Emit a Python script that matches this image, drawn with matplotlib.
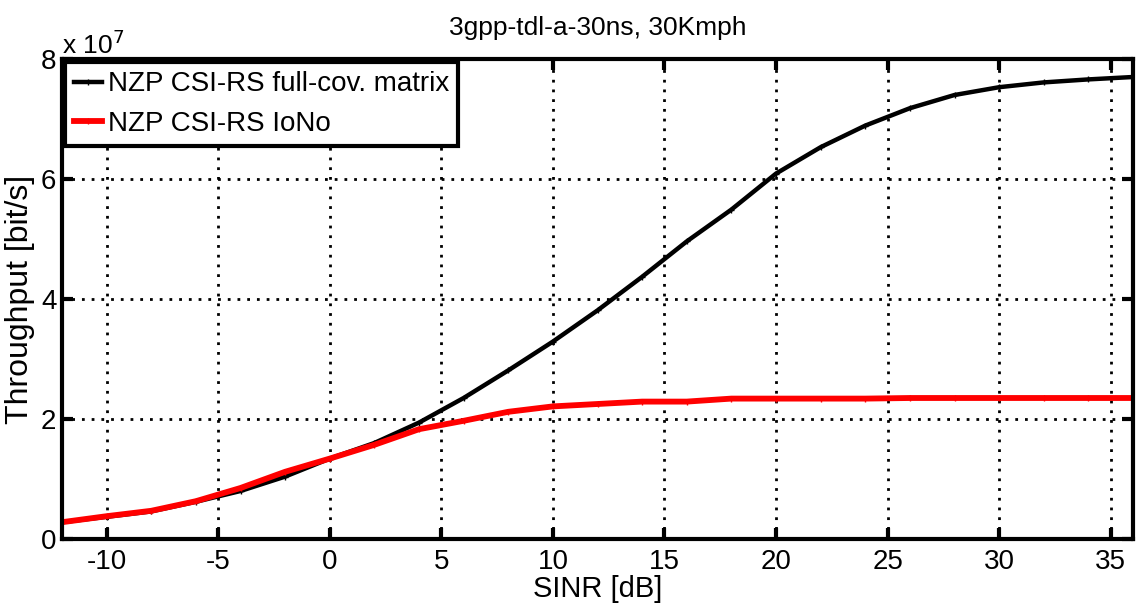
import matplotlib.pyplot as plt
import numpy as np

plt.rcParams['font.family'] = ['Liberation Sans', 'DejaVu Sans']
plt.rcParams['axes.unicode_minus'] = False

# SINR points (dB)
sinr = [-12, -10, -8, -6, -4, -2, 0, 2, 4, 6, 8, 10, 12, 14, 16, 18, 20,
        22, 24, 26, 28, 30, 32, 34, 36]

# throughput in units of 1e7 bit/s
full_cov = [0.28, 0.37, 0.46, 0.62, 0.80, 1.04, 1.34, 1.60, 1.94, 2.35,
            2.81, 3.29, 3.81, 4.37, 4.96, 5.49, 6.09, 6.53, 6.89, 7.18,
            7.40, 7.53, 7.61, 7.66, 7.70]
iono = [0.28, 0.38, 0.47, 0.63, 0.85, 1.12, 1.34, 1.57, 1.83, 1.97,
        2.12, 2.21, 2.25, 2.29, 2.29, 2.34, 2.34, 2.34, 2.34, 2.35,
        2.35, 2.35, 2.35, 2.35, 2.35]

fig = plt.figure(figsize=(11.37, 6.10), dpi=100)
ax = fig.add_axes([62/1137, 1-539/610, (1133-62)/1137, (539-59)/610])

ax.plot(sinr, np.array(full_cov)*1e7, color='black', lw=3.2, marker='+', ms=4, mew=1,
        label='NZP CSI-RS full-cov. matrix')
ax.plot(sinr, np.array(iono)*1e7, color='red', lw=4.2, marker='+', ms=4, mew=1,
        label='NZP CSI-RS IoNo')

ax.set_xlim(-12, 36)
ax.set_ylim(0, 8e7)
ax.set_xticks([-10, -5, 0, 5, 10, 15, 20, 25, 30, 35])
ax.set_yticks([0, 2e7, 4e7, 6e7, 8e7])
ax.set_yticklabels(['0', '2', '4', '6', '8'])
ax.tick_params(direction='in', length=8, width=3, labelsize=20,
               top=True, right=True, pad=7)
ax.tick_params(axis='y', pad=4)
for s in ax.spines.values():
    s.set_linewidth(3)
ax.grid(True, color='black', linestyle=(0, (1, 2.5)), linewidth=2)

ax.set_title('3gpp-tdl-a-30ns, 30Kmph', fontsize=19, pad=17)
ax.set_xlabel('SINR [dB]', fontsize=21, labelpad=0)
ax.set_ylabel('Throughput [bit/s]', fontsize=23, labelpad=4)
ax.text(0.0, 1.0, r'x 10$^7$', transform=ax.transAxes, fontsize=19,
        ha='left', va='bottom')

leg = ax.legend(loc='upper left', fontsize=20, fancybox=False,
                borderaxespad=0.12, handlelength=1.0, handletextpad=0.2,
                borderpad=0.32, labelspacing=0.5, framealpha=1)
leg.get_frame().set_edgecolor('black')
leg.get_frame().set_linewidth(3)

fig.savefig('out.png', dpi=100)
